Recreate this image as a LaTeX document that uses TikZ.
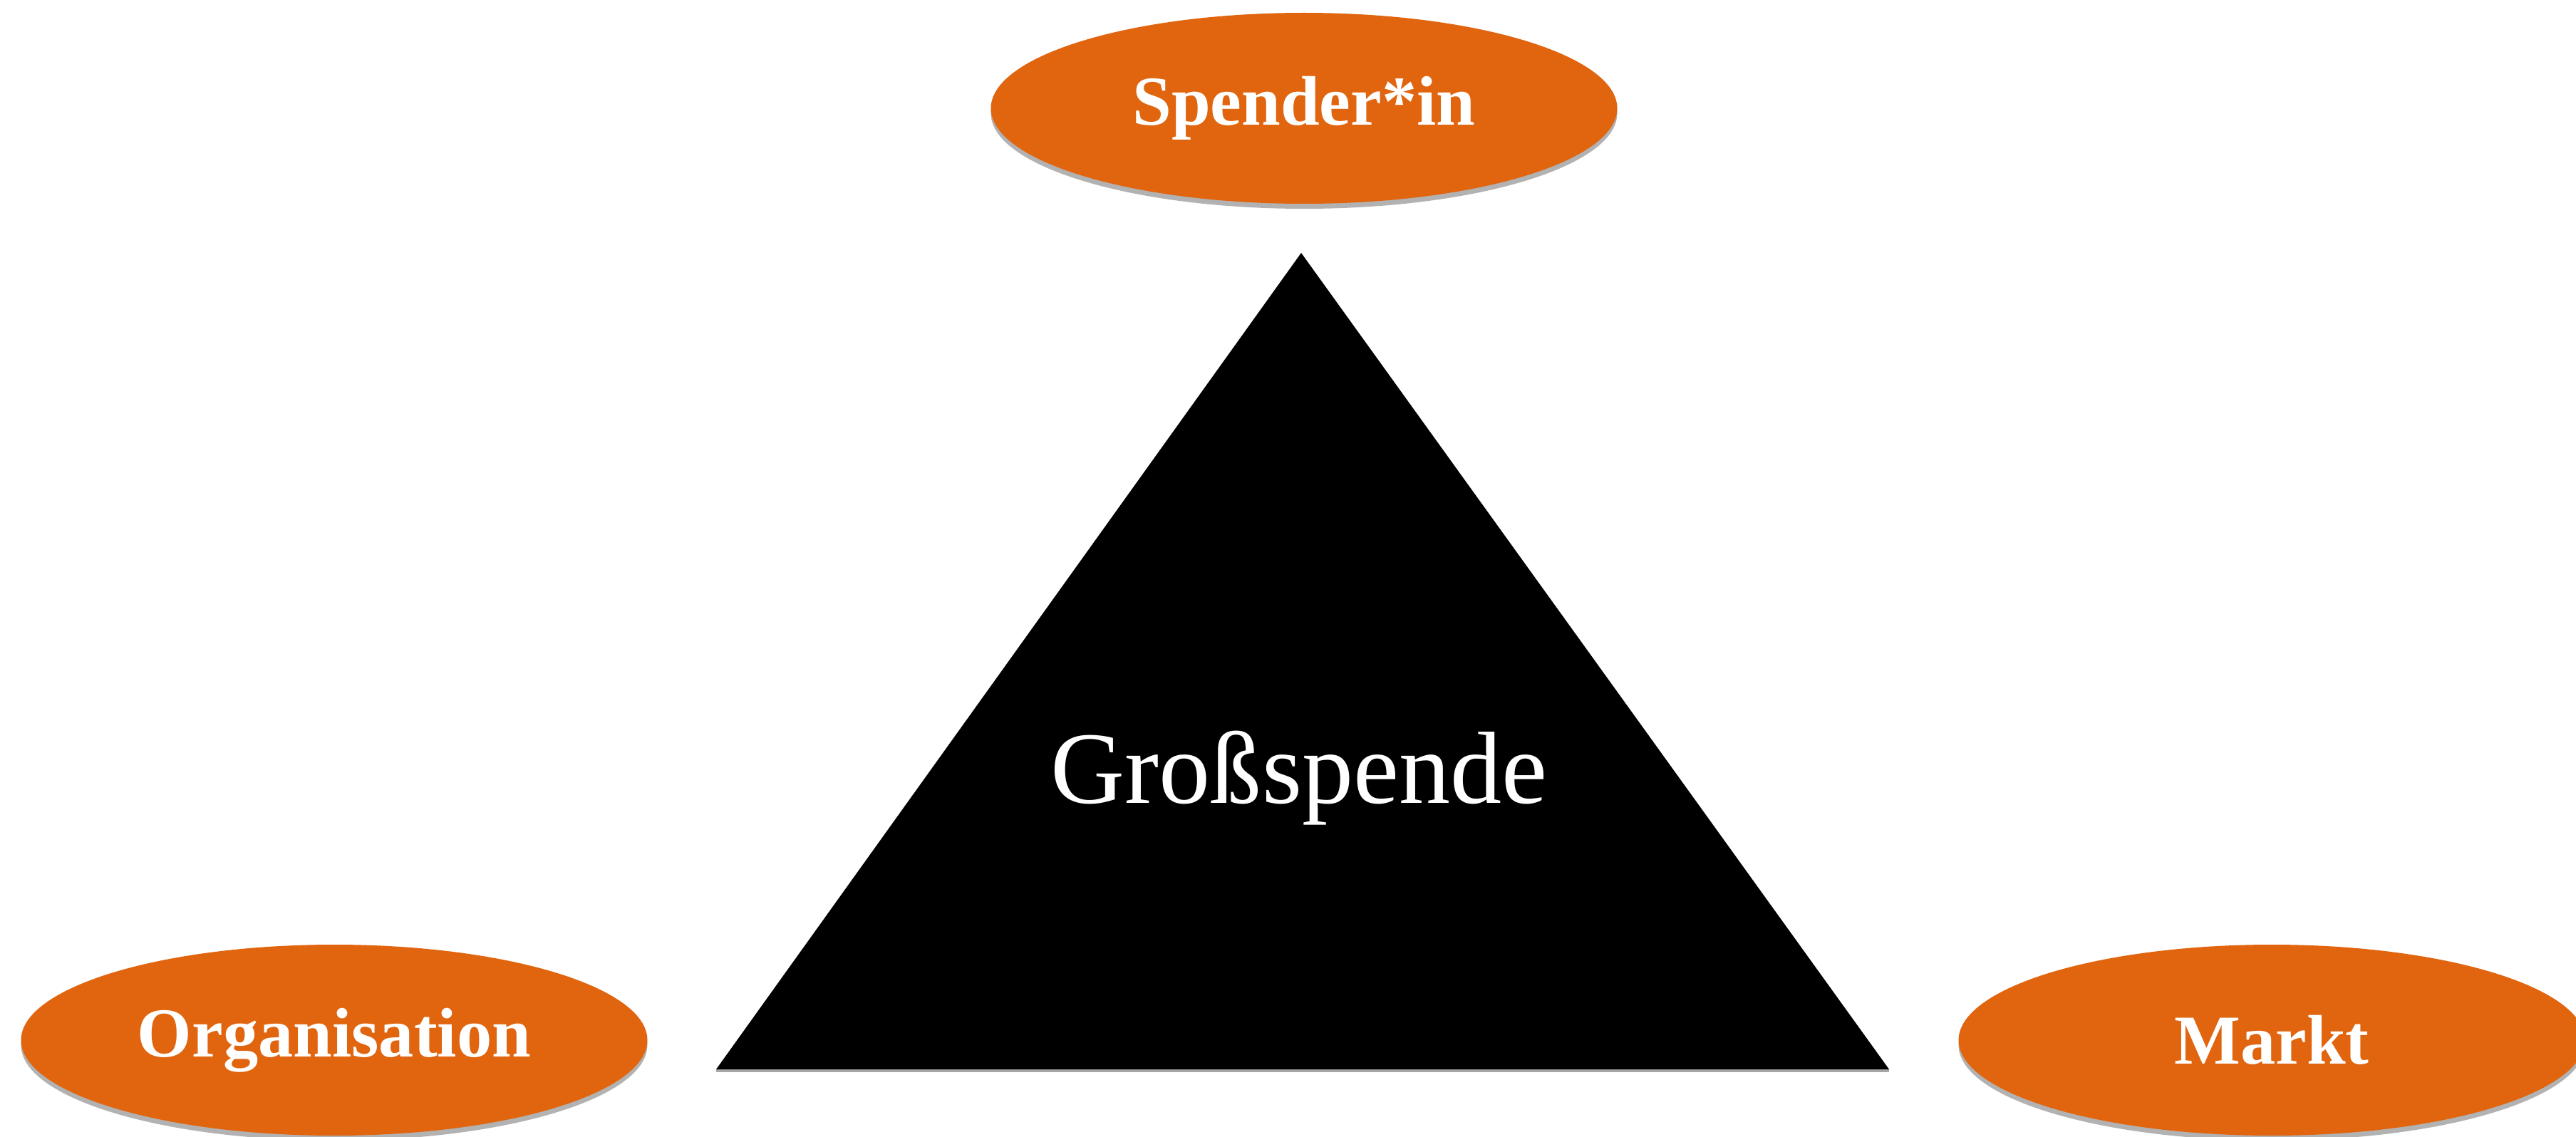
\documentclass[tikz,border=0pt]{standalone}
\usepackage{fontspec}
\setmainfont{Liberation Serif}
\usetikzlibrary{shapes.geometric,shadows}
\definecolor{spendorange}{HTML}{E1650F}

\tikzset{
  akteur/.style={ellipse,fill=spendorange,text=white,minimum width=8.79cm,minimum height=2.68cm,
    font=\fontsize{28}{32}\selectfont\bfseries,
    drop shadow={shadow xshift=0pt,shadow yshift=-0.07cm,opacity=0.3,fill=black}}
}

\begin{document}
\begin{tikzpicture}[line cap=round,line join=round,x=1cm,y=1cm]
\useasboundingbox (0,0) rectangle (36.15,15.95);
\fill[white] (0,0) rectangle (36.15,15.95);
% Dreieck
\coordinate (spitze) at (18.26,12.40);
\coordinate (links) at (10.05,0.94);
\coordinate (rechts) at (26.51,0.94);
\fill[black!35] ([yshift=-0.04cm]links) -- ([yshift=-0.04cm]rechts) -- (rechts) -- (links) -- cycle;
\fill[black] (spitze) -- (rechts) -- (links) -- cycle;
\node[anchor=base,text=white,font=\fontsize{41}{46}\selectfont] (gross) at (18.23,4.68) {Großspende};
% Akteure
\node[akteur] (spender) at (18.30,14.43) {Spender*in};
\node[akteur] (orga) at (4.69,1.35) {Organisation};
\node[akteur] (markt) at (31.88,1.35) {Markt};
\end{tikzpicture}
\end{document}
